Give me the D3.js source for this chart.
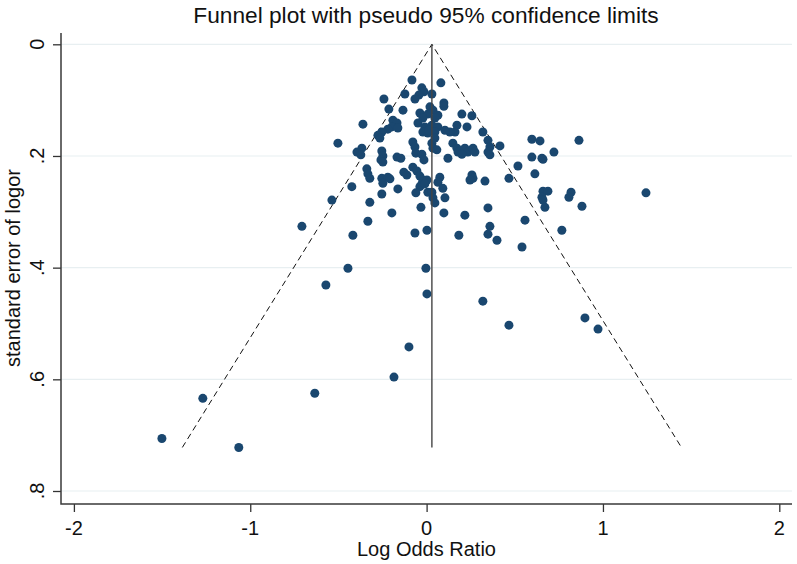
<!DOCTYPE html>
<html>
<head>
<meta charset="utf-8">
<script src="https://cdn.jsdelivr.net/npm/d3@7/dist/d3.min.js"></script>
<style>
  html, body { margin: 0; padding: 0; background: #fff; }
  svg { display: block; }
  text { font-family: "Liberation Sans", Arial, sans-serif; fill: #111; }
</style>
</head>
<body>
<svg id="chart" width="797" height="564"></svg>
<script>
// ---- Data ----
const logor = [
  -0.083,0.081,-0.027,-0.015,-0.044,0.030,-0.123,-0.066,-0.242,
  0.098,0.098,-0.214,-0.134,-0.038,0.019,0.036,0.007,0.064,0.047,-0.021,0.200,0.257,
  -0.361,-0.191,-0.168,-0.197,-0.163,-0.220,-0.254,-0.276,-0.265,-0.049,-0.010,-0.021,0.007,0.030,0.064,0.013,0.047,0.172,0.229,0.161,0.132,0.104,0.319,0.348,0.047,
  -0.503,-0.367,-0.395,-0.373,-0.254,-0.248,-0.259,-0.248,-0.168,-0.146,-0.078,-0.066,-0.061,-0.027,-0.015,0.030,0.036,0.058,0.149,0.172,0.178,0.217,0.234,0.263,0.274,0.200,0.121,0.359,0.348,0.359,0.416,0.597,0.643,0.597,0.654,0.722,0.660,0.864,
  -0.339,-0.333,-0.322,-0.254,-0.220,-0.248,-0.208,-0.129,-0.112,-0.078,-0.055,-0.038,-0.021,-0.027,-0.038,0.075,0.064,0.002,-0.010,0.257,0.263,0.246,0.331,0.518,0.467,0.614,-0.424,0.092,
  -0.537,-0.322,-0.254,-0.163,-0.061,0.007,0.030,0.036,0.047,0.104,0.098,-0.032,-0.197,0.217,0.348,0.660,0.688,0.654,0.660,0.671,0.819,0.807,0.881,1.244,
  -0.333,-0.707,-0.418,-0.066,0.002,0.183,0.359,0.348,0.399,0.558,0.767,0.541,
  -0.446,-0.571,-0.004,0.002,0.319,0.467,0.898,0.972,-0.100,-0.185,-0.634,-1.269,-1.501,-1.065
];
const se = [
  0.064,0.069,0.078,0.085,0.091,0.089,0.089,0.098,0.098,
  0.105,0.111,0.116,0.118,0.123,0.112,0.118,0.125,0.127,0.132,0.132,0.125,0.128,
  0.143,0.136,0.141,0.148,0.150,0.152,0.157,0.163,0.168,0.141,0.148,0.157,0.159,0.145,0.148,0.154,0.157,0.145,0.148,0.157,0.157,0.154,0.157,0.172,0.168,
  0.177,0.186,0.193,0.198,0.191,0.200,0.207,0.211,0.202,0.204,0.175,0.184,0.195,0.197,0.207,0.177,0.186,0.189,0.177,0.186,0.193,0.186,0.193,0.186,0.193,0.197,0.204,0.184,0.193,0.198,0.182,0.170,0.173,0.202,0.204,0.193,0.206,0.172,
  0.223,0.232,0.240,0.240,0.238,0.249,0.241,0.229,0.234,0.220,0.227,0.236,0.243,0.250,0.255,0.238,0.247,0.243,0.250,0.234,0.240,0.243,0.245,0.218,0.240,0.232,0.255,0.258,
  0.279,0.283,0.268,0.259,0.266,0.265,0.265,0.275,0.284,0.275,0.302,0.292,0.302,0.306,0.293,0.263,0.263,0.274,0.279,0.292,0.265,0.274,0.290,0.266,
  0.317,0.326,0.342,0.338,0.333,0.342,0.326,0.340,0.351,0.315,0.333,0.363,
  0.401,0.431,0.401,0.447,0.460,0.503,0.490,0.510,0.542,0.596,0.625,0.634,0.706,0.722
];
const pooled = 0.03;              // fixed-effect estimate (vertical line)
const zCrit = 1.96;               // pseudo 95% limits
const xTicks = [-2, -1, 0, 1, 2];
const yTicks = [0, 0.2, 0.4, 0.6, 0.8];
const yTickLabels = ["0", ".2", ".4", ".6", ".8"];
const titleText = "Funnel plot with pseudo 95% confidence limits";
const xTitle = "Log Odds Ratio";
const yTitle = "standard error of logor";

// ---- Layout ----
const svg = d3.select("#chart");
const axisX0 = 61, axisX1 = 792, axisYTop = 33, axisYBot = 504;
const x = d3.scaleLinear().domain([-2, 2]).range([73.9, 779.3]);
const y = d3.scaleLinear().domain([0, 0.8]).range([44.3, 491]);

// gridlines
svg.append("g").selectAll("line").data(yTicks).join("line")
  .attr("x1", axisX0).attr("x2", axisX1)
  .attr("y1", d => y(d)).attr("y2", d => y(d))
  .attr("stroke", "#e8eff1").attr("stroke-width", 1.2);

// axes (ticks via d3 axis, domain drawn as L-shape)
const gy = svg.append("g").attr("transform", `translate(${axisX0},0)`)
  .call(d3.axisLeft(y).tickValues(yTicks).tickSize(8).tickSizeOuter(0).tickFormat(""));
gy.select(".domain").remove();
gy.selectAll(".tick line").attr("stroke", "#333").attr("stroke-width", 1.3);

const gx = svg.append("g").attr("transform", `translate(0,${axisYBot})`)
  .call(d3.axisBottom(x).tickValues(xTicks).tickSize(8).tickSizeOuter(0).tickFormat(""));
gx.select(".domain").remove();
gx.selectAll(".tick line").attr("stroke", "#333").attr("stroke-width", 1.3);

svg.append("path")
  .attr("d", `M${axisX0},${axisYTop}V${axisYBot}H${axisX1}`)
  .attr("fill", "none").attr("stroke", "#3a3a3a").attr("stroke-width", 1.5);

// tick labels
svg.append("g").selectAll("text").data(yTicks).join("text")
  .attr("transform", d => `translate(43.5,${y(d)}) rotate(-90)`)
  .attr("text-anchor", "middle")
  .style("font-size", "20px")
  .text((d, i) => yTickLabels[i]);

svg.append("g").selectAll("text").data(xTicks).join("text")
  .attr("x", d => x(d)).attr("y", 535)
  .attr("text-anchor", "middle")
  .style("font-size", "20px")
  .text(d => d < 0 ? "-" + Math.abs(d) : String(d));

// titles
svg.append("text").attr("x", 426).attr("y", 23.3).attr("text-anchor", "middle")
  .style("font-size", "22.7px").text(titleText);
svg.append("text").attr("x", 426.5).attr("y", 555.5).attr("text-anchor", "middle")
  .style("font-size", "20px").text(xTitle);
svg.append("text").attr("transform", `translate(20,268) rotate(-90)`)
  .attr("text-anchor", "middle").style("font-size", "20px").text(yTitle);

// funnel limits
const maxSE = d3.max(se);
const lineGen = d3.line().x(d => x(d[0])).y(d => y(d[1]));
svg.append("path")
  .attr("d", lineGen([[pooled - zCrit * maxSE, maxSE], [pooled, 0], [pooled + zCrit * maxSE, maxSE]]))
  .attr("fill", "none").attr("stroke", "#111").attr("stroke-width", 1)
  .attr("stroke-dasharray", "6,4");

// points
const pts = logor.map((v, i) => ({ x: v, s: se[i] }));
svg.append("g").selectAll("circle").data(pts).join("circle")
  .attr("cx", d => x(d.x)).attr("cy", d => y(d.s)).attr("r", 4.5)
  .attr("fill", "#1a476f");

// pooled estimate line
svg.append("line")
  .attr("x1", x(pooled)).attr("x2", x(pooled))
  .attr("y1", y(0)).attr("y2", y(maxSE))
  .attr("stroke", "#444").attr("stroke-width", 1.4);
</script>
</body>
</html>
